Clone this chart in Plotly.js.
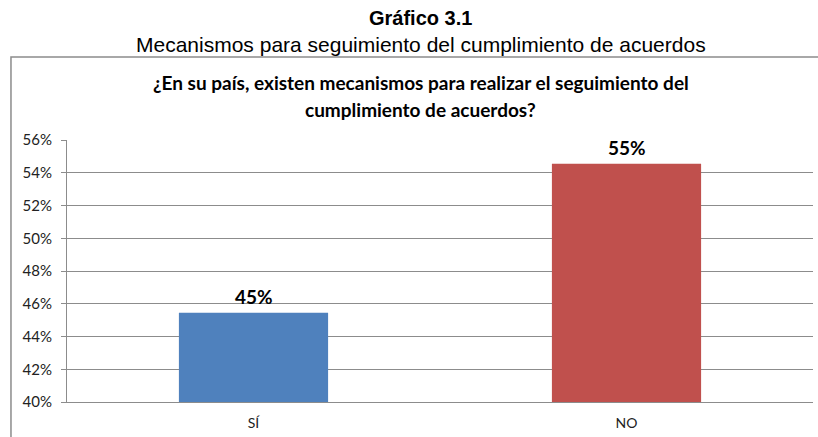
<!DOCTYPE html>
<html>
<head>
<meta charset="utf-8">
<script src="https://cdn.plot.ly/plotly-3.0.1.min.js"></script>
<style>html,body{margin:0;padding:0;background:#fff;}#chart{width:818px;height:437px;}</style>
</head>
<body>
<div id="chart"></div>
<script>
const categories = ["SÍ", "NO"];
const values = [0.4545, 0.5455];
const labels = ["45%", "55%"];
const colors = ["#4F81BD", "#C0504D"];
const yTicks = [0.40, 0.42, 0.44, 0.46, 0.48, 0.50, 0.52, 0.54, 0.56];
const yTickText = ["40%", "42%", "44%", "46%", "48%", "50%", "52%", "54%", "56%"];

const trace = {
  type: "bar",
  x: categories,
  y: values,
  marker: {color: colors},
  cliponaxis: false,
  hoverinfo: "none",
  base: 0
};

const py = v => (402 - v) / 262;

const valueLabels = categories.map((c, i) => ({
  x: c, y: values[i], xref: "x", yref: "y",
  xanchor: "center", yanchor: "bottom", yshift: 3,
  text: "<b>" + labels[i] + "</b>", showarrow: false,
  font: {family: "Lato, 'Open Sans', sans-serif", size: 19, color: "#000"}
}));

const layout = {
  width: 818, height: 437,
  margin: {l: 67, r: 5, t: 140, b: 35},
  paper_bgcolor: "#fff", plot_bgcolor: "#fff",
  showlegend: false,
  bargap: 0.6,
  font: {family: "Lato, 'Open Sans', sans-serif", size: 14, color: "#222"},
  xaxis: {
    type: "category",
    showgrid: false,
    showline: true, linecolor: "#8c8c8c", linewidth: 1,
    ticks: "", ticklabelstandoff: 8,
    tickfont: {family: "Lato, 'Open Sans', sans-serif", size: 14, color: "#222"}
  },
  yaxis: {
    range: [0.40, 0.56],
    tickvals: yTicks, ticktext: yTickText,
    showgrid: true, gridcolor: "#8c8c8c", gridwidth: 1,
    showline: true, linecolor: "#8c8c8c", linewidth: 1,
    ticks: "outside", ticklen: 5, tickcolor: "#8c8c8c",
    ticklabelstandoff: 6,
    zeroline: false,
    tickfont: {family: "Lato, 'Open Sans', sans-serif", size: 15, color: "#222"}
  },
  shapes: [{
    type: "rect", xref: "paper", yref: "paper",
    x0: -0.0751, x1: 1.02, y0: -0.2, y1: 1.3168,
    line: {color: "#8c8c8c", width: 1.5}, fillcolor: "rgba(0,0,0,0)", layer: "below"
  }],
  annotations: [
    {xref: "paper", yref: "paper", x: 0.4745, y: py(18), xanchor: "center", yanchor: "middle",
     text: "<b>Gráfico 3.1</b>", showarrow: false,
     font: {family: "'Liberation Sans', Arial, sans-serif", size: 20, color: "#000"}},
    {xref: "paper", yref: "paper", x: 0.4745, y: py(44), xanchor: "center", yanchor: "middle",
     text: "Mecanismos para seguimiento del cumplimiento de acuerdos", showarrow: false,
     font: {family: "'Liberation Sans', Arial, sans-serif", size: 21, color: "#000"}},
    {xref: "paper", yref: "paper", x: 0.4745, y: py(82), xanchor: "center", yanchor: "middle",
     text: "<b>¿En su país, existen mecanismos para realizar el seguimiento del</b>",
     showarrow: false,
     font: {family: "Lato, 'Open Sans', sans-serif", size: 19, color: "#000"}},
    {xref: "paper", yref: "paper", x: 0.4745, y: py(109), xanchor: "center", yanchor: "middle",
     text: "<b>cumplimiento de acuerdos?</b>",
     showarrow: false,
     font: {family: "Lato, 'Open Sans', sans-serif", size: 19, color: "#000"}}
  ].concat(valueLabels)
};

Plotly.newPlot("chart", [trace], layout, {staticPlot: true, displayModeBar: false});
</script>
</body>
</html>
